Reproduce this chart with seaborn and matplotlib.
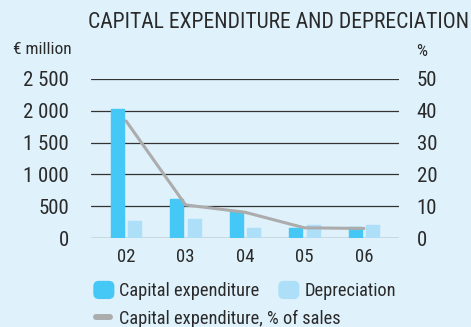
import matplotlib
matplotlib.use("Agg")
import matplotlib.pyplot as plt
import seaborn as sns
import pandas as pd
from matplotlib.patches import Patch, FancyBboxPatch
from matplotlib.lines import Line2D
from matplotlib.legend_handler import HandlerPatch

# Data (€ million, and capex as % of sales)
years = ["02", "03", "04", "05", "06"]
capex = [2030, 615, 405, 150, 180]
depreciation = [260, 300, 165, 200, 205]
capex_pct = [36.8, 10.4, 8.1, 3.2, 3.0]

sns.set_theme(style="white")
plt.rcParams["font.family"] = ["Roboto Condensed", "Archivo Narrow", "DejaVu Sans"]

BG = "#dff1fb"
C_CAPEX = "#45c8f5"
C_DEPR = "#addff8"
C_LINE = "#acacac"
C_TEXT = "#2a2a2a"
C_GRID = "#333333"

df = pd.DataFrame({
    "year": years * 2,
    "value": capex + depreciation,
    "series": ["Capital expenditure"] * len(years) + ["Depreciation"] * len(years),
})

W, H = 471, 327
fig = plt.figure(figsize=(W / 100, H / 100), dpi=100, facecolor=BG)
ax = fig.add_axes([91 / W, 1 - 238 / H, 308 / W, (238 - 79) / H])
ax.set_facecolor(BG)

sns.barplot(data=df, x="year", y="value", hue="series",
            palette=[C_CAPEX, C_DEPR], saturation=1, width=0.59, gap=0.26,
            ax=ax, legend=False, zorder=2)
# soften the bar corners
for p in ax.patches:
    p.set_edgecolor(p.get_facecolor())
    p.set_linewidth(1.0)
    p.set_joinstyle("round")

ax.set_xlim(-0.59, 4.59)
ax.set_ylim(0, 2500)
ax.set_yticks(range(0, 2501, 500))
ax.set_yticklabels([f"{v:,}".replace(",", " ") for v in range(0, 2501, 500)])
ax.yaxis.grid(True, color=C_GRID, lw=0.9)
ax.set_axisbelow(True)
ax.set_xlabel("")
ax.set_ylabel("")
for s in ax.spines.values():
    s.set_visible(False)
ax.tick_params(axis="y", length=0, pad=15.8, labelsize=15, labelcolor=C_TEXT)
ax.tick_params(axis="x", length=0, pad=7, labelsize=13.5, labelcolor=C_TEXT)

ax2 = ax.twinx()
sns.lineplot(x=list(range(len(years))), y=capex_pct, ax=ax2, color=C_LINE,
             lw=2.2, zorder=3)
ax2.set_ylim(0, 50)
ax2.set_yticks(range(0, 51, 10))
ax2.set_ylabel("")
for s in ax2.spines.values():
    s.set_visible(False)
ax2.tick_params(axis="y", length=0, pad=12.7, labelsize=15, labelcolor=C_TEXT)
ax.set_xlim(-0.59, 4.59)

fig.text(88 / W, 1 - 23 / H, "CAPITAL EXPENDITURE AND DEPRECIATION",
         fontsize=15.6, color=C_TEXT, va="center", ha="left")
fig.text(13 / W, 1 - 49.5 / H, "€ million", fontsize=12.5, color=C_TEXT,
         va="center", ha="left")
fig.text(416 / W, 1 - 51 / H, "%", fontsize=12.5, color=C_TEXT,
         va="center", ha="left")


class RoundBox(HandlerPatch):
    def create_artists(self, legend, orig_handle, xdescent, ydescent,
                       width, height, fontsize, trans):
        box = FancyBboxPatch((-xdescent, -ydescent), width, height,
                             boxstyle="round,pad=0,rounding_size=4",
                             facecolor=orig_handle.get_facecolor(),
                             edgecolor="none", transform=trans)
        return [box]


LEG_FS = 13.2
bar_handles = [Patch(facecolor=C_CAPEX, label="Capital expenditure"),
               Patch(facecolor=C_DEPR, label="Depreciation")]
leg1 = fig.legend(handles=bar_handles, ncol=2, loc="center left",
                  bbox_to_anchor=(93.3 / W, 1 - 290.5 / H), frameon=False,
                  fontsize=LEG_FS, handlelength=1.15, handleheight=1.15,
                  handletextpad=0.27, columnspacing=1.02, borderpad=0,
                  borderaxespad=0, labelcolor=C_TEXT,
                  handler_map={Patch: RoundBox()})
line_handle = [Line2D([0], [0], color=C_LINE, lw=4.3, solid_capstyle="round",
                      label="Capital expenditure, % of sales")]
leg2 = fig.legend(handles=line_handle, loc="center left",
                  bbox_to_anchor=(96.3 / W, 1 - 318.5 / H), frameon=False,
                  fontsize=LEG_FS, handlelength=0.77, handletextpad=0.48,
                  borderpad=0, borderaxespad=0, labelcolor=C_TEXT)

fig.savefig("out.png", dpi=100, facecolor=BG)
